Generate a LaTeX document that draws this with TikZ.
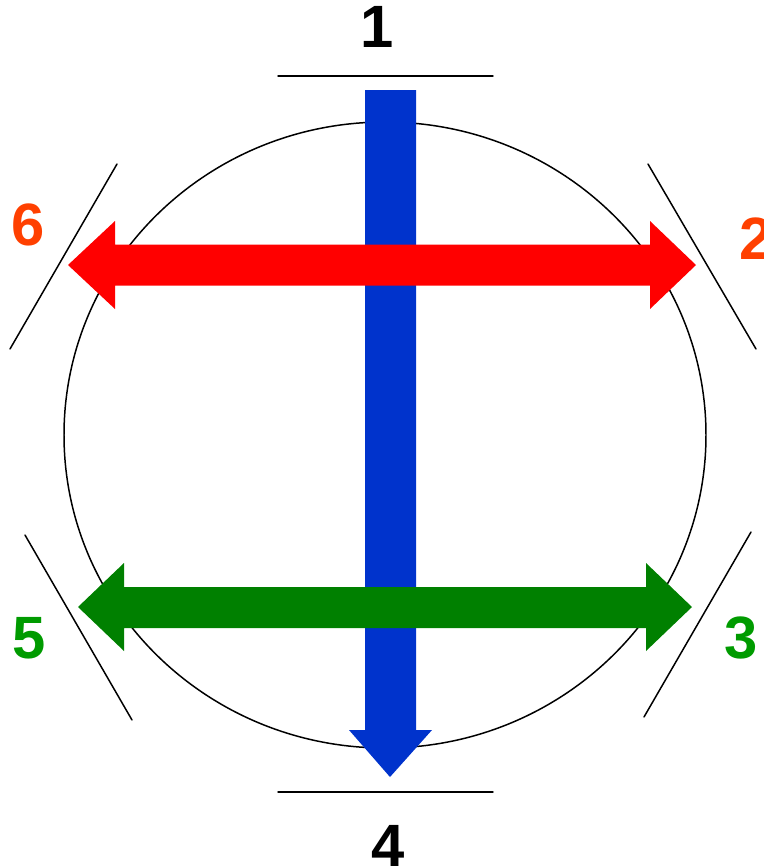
\documentclass[tikz,border=0pt]{standalone}
\usepackage{fontspec}
\setmainfont{Liberation Sans}
\definecolor{arrowBlue}{RGB}{0,51,204}
\definecolor{arrowRed}{RGB}{255,0,0}
\definecolor{arrowGreen}{RGB}{0,128,0}
\definecolor{labelRed}{RGB}{255,64,0}
\definecolor{labelGreen}{RGB}{0,155,0}
\begin{document}
\begin{tikzpicture}[x=0.02cm, y=-0.02cm,
  thinline/.style={draw=black, line width=0.85pt, line cap=round},
  digit/.style={inner sep=0pt, font=\fontsize{34}{40}\selectfont\bfseries}]
% picture frame in pixel units of the reference
\useasboundingbox (0,0) rectangle (764,867);
\providecommand{\shaftHalf}{20.5}
\providecommand{\headHalf}{44}
% Circle
\draw[thinline] (385,435) ellipse [x radius=321, y radius=313];
% Tangent marks
\draw[thinline] (278,76) -- (493,76);
\draw[thinline] (278,792) -- (493,792);
\draw[thinline] (117,164) -- (10,349);
\draw[thinline] (648,164) -- (756,349);
\draw[thinline] (25,535) -- (132,720);
\draw[thinline] (751,532) -- (644,717);
% Blue arrow, top to bottom
\fill[arrowBlue] (365,90) -- (416,90) -- (416,730) -- (432,730) -- (390,777)
  -- (349,730) -- (365,730) -- cycle;
% Red arrow, both ends
\fill[arrowRed] (68,265) -- (115,221) -- (115,244.5) -- (650,244.5) -- (650,221)
  -- (696,265) -- (650,309) -- (650,285.5) -- (115,285.5) -- (115,309) -- cycle;
% Green arrow, both ends
\fill[arrowGreen] (78,607) -- (124,563) -- (124,587) -- (646,587) -- (646,563)
  -- (692,607) -- (646,651) -- (646,628) -- (124,628) -- (124,651) -- cycle;
% Labels
\node[digit] (l1) at (377,27) {1};
\node[digit, labelRed] (l2) at (756,239) {2};
\node[digit, labelGreen] (l3) at (741,638) {3};
\node[digit] (l4) at (388,846) {4};
\node[digit, labelGreen] (l5) at (29,638) {5};
\node[digit, labelRed] (l6) at (28,225) {6};
\end{tikzpicture}
\end{document}
